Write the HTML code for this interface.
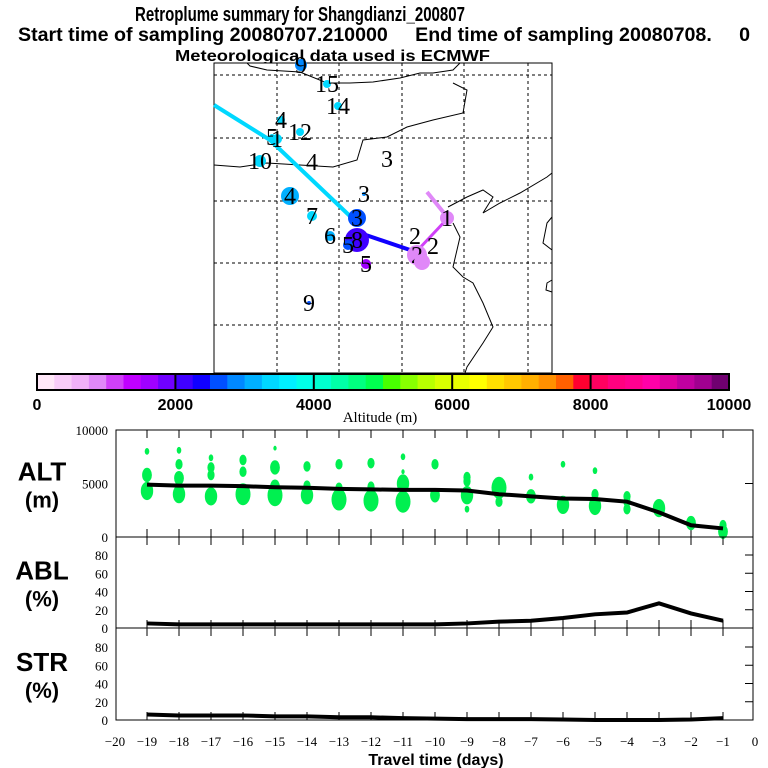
<!DOCTYPE html>
<html><head><meta charset="utf-8"><style>
html,body{margin:0;padding:0;background:#fff;}
svg{display:block;}
.t{font-family:"Liberation Sans",sans-serif;font-weight:bold;fill:#000;}
.s{font-family:"Liberation Serif",serif;fill:#000;}
</style></head><body>
<svg id="c" width="768" height="768" viewBox="0 0 768 768" xmlns="http://www.w3.org/2000/svg">
<text class="t" x="135" y="21" font-size="20" textLength="330" lengthAdjust="spacingAndGlyphs">Retroplume summary for Shangdianzi_200807</text>
<text class="t" x="18" y="41" font-size="19" textLength="732" lengthAdjust="spacingAndGlyphs" xml:space="preserve">Start time of sampling 20080707.210000     End time of sampling 20080708.     0</text>
<text class="t" x="175" y="61" font-size="16" textLength="315" lengthAdjust="spacingAndGlyphs">Meteorological data used is ECMWF</text>
<g id="map"></g>
<g id="cbar"></g>
<g id="panels"></g>
</svg>
<script>
// ---------- data ----------
const days = [-19,-18,-17,-16,-15,-14,-13,-12,-11,-10,-9,-8,-7,-6,-5,-4,-3,-2,-1];
const altMean = [4900,4800,4800,4750,4650,4600,4500,4450,4400,4400,4350,4000,3800,3600,3550,3300,2300,1100,800];
const ablPct = [5,4,4,4,4,4,4,4,4,4,5,7,8,11,15,17,27,16,8];
const strPct = [6,5,5,5,4,4,3,3,2,1.5,1,1,1,0.5,0,0,0,0.5,2];
const blobDay = [-19,-19,-19,-18,-18,-18,-18,-17,-17,-17,-17,-16,-16,-16,-15,-15,-15,-15,-14,-14,-14,-13,-13,-13,-12,-12,-12,-11,-11,-11,-11,-10,-10,-9,-9,-9,-9,-8,-8,-7,-7,-6,-6,-5,-5,-5,-4,-4,-4,-3,-2,-1,-1];
const blobAlt = [8000,5800,4300,8100,6800,5500,4000,7400,6500,5800,3800,7200,6100,4000,8300,6500,4700,3900,6600,4800,3900,6800,4600,3500,6900,4700,3400,7500,6100,5000,3300,6800,3900,5600,5200,3900,2600,4600,3300,5600,3800,6800,3000,6200,4000,2900,3800,3300,2600,2700,1300,1100,500];
const blobSize = [1,3,4,1,2,3,4,1,2,2,4,2,2,5,0.5,3,3,5,2,2,4,2,2,5,2,2,5,1,0.5,4,5,2,3,2,2,4,1,5,2,1,3,1,4,1,2,4,2,2,2,4,3,2,3];
const cbarTicks = [0,2000,4000,6000,8000,10000];
const cbarColors = ["#ffe8f8","#f8ccf8","#f0b0f8","#e088f8","#d040f8","#c000ff","#a000ff","#7000ff",
"#4000ff","#1000ff","#0050ff","#0088ff","#00b0ff","#00d8ff","#00f0ff","#00ffe8",
"#00ffd0","#00ffa8","#00ff80","#00ff50","#48ff00","#88ff00","#b8ff00","#d8ff00",
"#e8ff00","#ffff00","#ffe000","#ffc800","#ffb000","#ff9000","#ff6000","#ff0030",
"#ff0060","#ff0080","#ff0090","#ff00a8","#e000a0","#c000a0","#a00090","#700070"];
const pctTicks = [0,20,40,60,80];
const altTicks = [0,5000,10000];
const xTicks = [-20,-19,-18,-17,-16,-15,-14,-13,-12,-11,-10,-9,-8,-7,-6,-5,-4,-3,-2,-1,0];

const NS="http://www.w3.org/2000/svg";
function mk(tag,attrs,parent,txt){const e=document.createElementNS(NS,tag);for(const k in attrs)e.setAttribute(k,attrs[k]);if(txt!==undefined)e.textContent=txt;parent.appendChild(e);return e;}

// ---------- map ----------
const map=document.getElementById('map');
mk('rect',{x:214,y:63,width:338,height:310,fill:'#fff',stroke:'#000','stroke-width':1},map);
[277,339,402,464,528].forEach(x=>{const l=mk('line',{x1:x,y1:63,x2:x,y2:373,stroke:'#000','stroke-dasharray':'3,3','stroke-width':1},map);});
[75,138,201,263,325].forEach(y=>{const l=mk('line',{x1:214,y1:y,x2:552,y2:y,stroke:'#000','stroke-dasharray':'3,3','stroke-width':1},map);});
const coasts=["247,63 250,66 267,70 300,72 327,83 350,83 373,82 400,78 420,73 433,73 453,70 460,63",
"214,165 240,167 267,163 300,165 333,167 357,160 363,140 387,137 407,127 433,120 463,113 467,90 453,83",
"448,207 467,197 483,190 493,197 483,213 500,203 520,193 547,177 552,173",
"453,223 460,237 453,267 463,277 473,283 483,303 493,327 483,343 467,367 465,373",
"552,217 547,223 543,243 552,250","552,280 547,283 546,290 552,292"];
coasts.forEach(p=>{const e=mk('polyline',{points:p,fill:'none',stroke:'#000','stroke-width':1},map);});
let tr=mk('polyline',{points:'214,105 270,140 352,218',fill:'none',stroke:'#00d8ff','stroke-width':4},map);
tr=mk('polyline',{points:'357,232 416,252',fill:'none',stroke:'#1000ff','stroke-width':4},map);
tr=mk('polyline',{points:'416,252 448,218',fill:'none',stroke:'#d040f8','stroke-width':3},map);
tr=mk('polyline',{points:'448,218 427,192',fill:'none',stroke:'#e088f8','stroke-width':4},map);
const spots=[[301,65,6,'#0088ff','9'],[327,84,4,'#00d8ff','15'],[338,106,4,'#00d8ff','14'],[281,120,4,'#00d8ff','4'],[272,137,3,'#00d8ff','5'],[277,139,5,'#00d8ff','1'],[300,132,4,'#00d8ff','12'],[260,161,6,'#00d8ff','10'],[290,196,9,'#00b0ff','4'],[312,216,5,'#00d8ff','7'],[330,236,5,'#00b0ff','6'],[357,218,9,'#0050ff','3'],[357,240,12,'#4000ff','8'],[348,245,5,'#0050ff','5'],[366,264,5,'#a000ff','5'],[364,194,2,'#0088ff','3'],[417,255,10,'#e088f8','2'],[422,262,8,'#e088f8',''],[447,218,7,'#e088f8','1'],[309,303,2,'#0050ff','9']];
spots.forEach(s=>{const c=mk('circle',{cx:s[0],cy:s[1],r:s[2],fill:s[3]},map);
if(s[4]){const t=mk('text',{x:s[0],y:s[1]+8,class:'s','font-size':24,'text-anchor':'middle'},map,s[4]);}});
[[387,167,'3'],[312,170,'4'],[415,244,'2'],[433,254,'2']].forEach(s=>{const t=mk('text',{x:s[0],y:s[1],class:'s','font-size':24,'text-anchor':'middle'},map,s[2]);});

// ---------- colorbar ----------
const cb=document.getElementById('cbar');
const cbX=v=>37+(729-37)*v/10000;
cbarColors.forEach((col,i)=>{const r=mk('rect',{x:cbX(i*250),y:374,width:cbX(250)-cbX(0)+0.5,height:16,fill:col},cb);});
mk('rect',{x:37,y:374,width:692,height:16,fill:'none',stroke:'#000','stroke-width':2},cb);
cbarTicks.forEach(v=>{const l=mk('line',{x1:cbX(v),y1:374,x2:cbX(v),y2:390,stroke:'#000','stroke-width':2},cb);
const t=mk('text',{x:cbX(v),y:410,class:'t','font-size':16,'text-anchor':'middle'},cb,String(v));});
let ct=mk('text',{x:380,y:422,class:'s','font-size':15,'text-anchor':'middle'},cb,'Altitude (m)');

// ---------- panels ----------
const P=document.getElementById('panels');
const L=116,R=753;
const xs=d=>755+32*d;
function panel(top,bot,yfun,ticks,name1,name2,nm){
  const g=mk('g',{},P);
  mk('rect',{x:L,y:top,width:R-L,height:bot-top,fill:'none',stroke:'#000','stroke-width':1},g);
  days.forEach(d=>{mk('line',{x1:xs(d),y1:top,x2:xs(d),y2:top+8,stroke:'#000'},g);mk('line',{x1:xs(d),y1:bot,x2:xs(d),y2:bot-8,stroke:'#000'},g);});
  ticks.forEach(v=>{const y=yfun(v);mk('line',{x1:R,y1:y,x2:R-8,y2:y,stroke:'#000'},g);
    const t=mk('text',{x:108,y:y+5,class:'s','font-size':13,'text-anchor':'end'},g,String(v));});
  const mid=(top+bot)/2;
  let a=mk('text',{x:42,y:mid-3,class:'t','font-size':26,'text-anchor':'middle'},g,name1);
  a=mk('text',{x:42,y:mid+24,class:'t','font-size':22,'text-anchor':'middle'},g,name2);
  return g;
}
const yAlt=v=>537-107*v/10000;
const yAbl=v=>628-73*v/80;
const yStr=v=>720-73*v/80;
const gA=panel(430,537,yAlt,altTicks,'ALT','(m)','alt');
blobDay.forEach((d,i)=>{const s=blobSize[i];const e=mk('ellipse',{cx:xs(d),cy:yAlt(blobAlt[i]),rx:1+s*1.3,ry:1.5+s*1.9,fill:'#00f050'},gA);});
let ln=mk('polyline',{points:days.map((d,i)=>xs(d)+','+yAlt(altMean[i])).join(' '),fill:'none',stroke:'#000','stroke-width':4},gA);
const gB=panel(537,628,yAbl,pctTicks,'ABL','(%)','abl');
ln=mk('polyline',{points:days.map((d,i)=>xs(d)+','+yAbl(ablPct[i])).join(' '),fill:'none',stroke:'#000','stroke-width':4},gB);
const gS=panel(628,720,yStr,pctTicks,'STR','(%)','str');
ln=mk('polyline',{points:days.map((d,i)=>xs(d)+','+yStr(strPct[i])).join(' '),fill:'none',stroke:'#000','stroke-width':4},gS);
xTicks.forEach(d=>{const t=mk('text',{x:xs(d),y:746,class:'s','font-size':13,'text-anchor':'middle'},P,(d<0?'\u2212'+(-d):String(d)));});
let xt=mk('text',{x:436,y:765,class:'t','font-size':16,'text-anchor':'middle'},P,'Travel time (days)');
</script>
</body></html>
